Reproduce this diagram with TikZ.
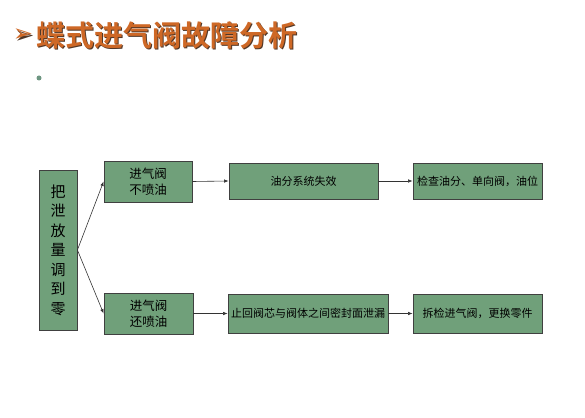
\documentclass[tikz,border=0pt]{standalone}
\usepackage{fontspec}
\newfontfamily\cjk{Noto Sans CJK SC}
\newfontfamily\cjkb{Noto Sans CJK SC Bold}
\newfontfamily\dejavub{DejaVu Sans Bold}
\usetikzlibrary{arrows.meta}
\definecolor{boxgreen}{RGB}{112,160,122}
\definecolor{titleorange}{RGB}{206,104,38}
\definecolor{shadowc}{RGB}{80,55,40}
\definecolor{bulletc}{RGB}{110,150,130}
\begin{document}
\begin{tikzpicture}[x=1pt,y=-1pt,
  box/.style={draw=black!75, fill=boxgreen, line width=0.8pt, inner sep=0pt, align=center, font=\cjk\fontsize{11}{14}\selectfont},
  conn/.style={draw=black!80, line width=0.6pt, -{Latex[length=4.5pt,width=3.5pt]}},
  ttl/.style={anchor=west, inner sep=0pt, font=\cjkb\fontsize{29}{32}\selectfont}]
\useasboundingbox (0,0) rectangle (585,417);
% title
\node[ttl, text=shadowc] at (37.5,36.5) {蝶式进气阀故障分析};
\node[ttl, text=titleorange] (title) at (36,35) {蝶式进气阀故障分析};
\node[text=shadowc, font=\dejavub\fontsize{24}{26}\selectfont, inner sep=0pt] at (24.5,37) {➢};
\node[text=titleorange, font=\dejavub\fontsize{24}{26}\selectfont, inner sep=0pt] (mark) at (23,35.5) {➢};
\node[circle, fill=bulletc, inner sep=0pt, minimum size=5pt] (bullet) at (39,78) {};
% boxes
\node[box, minimum width=38pt, minimum height=160pt, font=\cjk\fontsize{15}{19.5}\selectfont] (L) at (58,250) {把\\泄\\放\\量\\调\\到\\零};
\node[box, minimum width=88pt, minimum height=41pt, font=\cjk\fontsize{12.5}{16}\selectfont] (A1) at (148,181.5) {进气阀\\不喷油};
\node[box, minimum width=89pt, minimum height=41pt, font=\cjk\fontsize{12.5}{16}\selectfont] (B1) at (148.5,313.5) {进气阀\\还喷油};
\node[box, minimum width=149pt, minimum height=36pt] (A2) at (303.5,181) {油分系统失效};
\node[box, minimum width=129pt, minimum height=36pt] (A3) at (477.5,181) {检查油分、单向阀，油位};
\node[box, minimum width=160pt, minimum height=39pt] (B2) at (308,313.5) {止回阀芯与阀体之间密封面泄漏};
\node[box, minimum width=129pt, minimum height=39pt] (B3) at (477.5,313.5) {拆检进气阀，更换零件};
% connectors
\draw[conn] (L.east) -- (A1.west);
\draw[conn] (L.east) -- (B1.west);
\draw[conn] (A1.east) -- (A2.west);
\draw[conn] (A2.east) -- (A3.west);
\draw[conn] (B1.east) -- (B2.west);
\draw[conn] (B2.east) -- (B3.west);
\end{tikzpicture}
\end{document}
